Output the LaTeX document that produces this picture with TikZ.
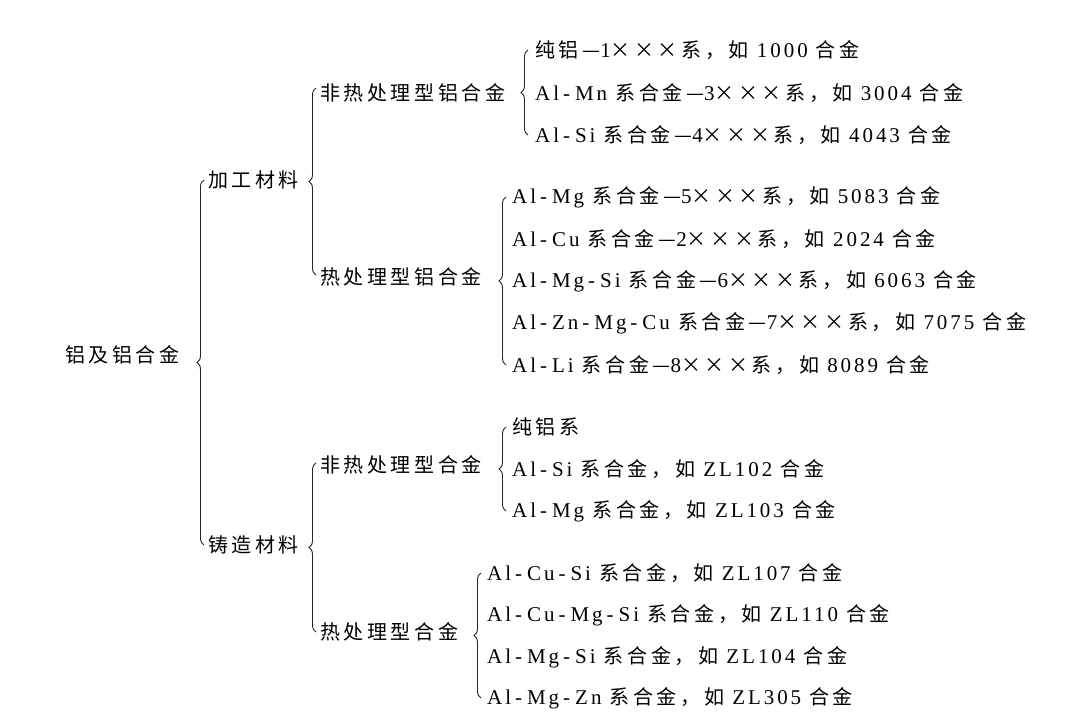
\documentclass[tikz,border=0pt]{standalone}
\usepackage{fontspec}
\setmainfont[LetterSpace=14]{Liberation Serif}
\newfontfamily\zf[LetterSpace=18]{Noto Sans CJK SC}
\newcommand{\z}[1]{{\zf\fontsize{20}{24}\selectfont #1}}
\newcommand{\xx}{\z{×××}}
\newcommand{\hy}{\hspace{4pt}-\hspace{5pt}}
\usetikzlibrary{decorations.pathreplacing}
\begin{document}
\begin{tikzpicture}[x=1pt,y=-1pt,
  t/.style={anchor=west,inner sep=0pt,font=\fontsize{21}{24}\selectfont},
  br/.style={draw=black!85,line width=0.9pt,decorate,decoration={brace,amplitude=7pt}}]
\fill[white] (0,0) rectangle (1080,728);
\node[t] (root) at (65,355) {\z{铝及铝合金}};
\node[t] (jg) at (208,180) {\z{加工材料}};
\node[t] (zz) at (208,545) {\z{铸造材料}};
\draw[br] (204,545) -- (204,180);
\node[t] (a1) at (320,93) {\z{非热处理型铝合金}};
\node[t] (a2) at (320,277) {\z{热处理型铝合金}};
\draw[br] (316,275) -- (316,88);
\node[t] (b1) at (320,465) {\z{非热处理型合金}};
\node[t] (b2) at (320,632) {\z{热处理型合金}};
\draw[br] (316,632) -- (316,463);
\draw[br] (528,135) -- (528,50);
\node[t] (a11) at (535,50) {\z{纯铝—}1\xx\z{系，如} 1000 \z{合金}};
\node[t] (a12) at (535,93) {Al\hy Mn \z{系合金—}3\xx\z{系，如} 3004 \z{合金}};
\node[t] (a13) at (535,135) {Al\hy Si \z{系合金—}4\xx\z{系，如} 4043 \z{合金}};
\draw[br] (506,365) -- (506,197);
\node[t] (a21) at (512,197) {Al\hy Mg \z{系合金—}5\xx\z{系，如} 5083 \z{合金}};
\node[t] (a22) at (512,239) {Al\hy Cu \z{系合金—}2\xx\z{系，如} 2024 \z{合金}};
\node[t] (a23) at (512,281) {Al\hy Mg\hy Si \z{系合金—}6\xx\z{系，如} 6063 \z{合金}};
\node[t] (a24) at (512,323) {Al\hy Zn\hy Mg\hy Cu \z{系合金—}7\xx\z{系，如} 7075 \z{合金}};
\node[t] (a25) at (512,365) {Al\hy Li \z{系合金—}8\xx\z{系，如} 8089 \z{合金}};
\draw[br] (506,511) -- (506,427);
\node[t] (b11) at (512,427) {\z{纯铝系}};
\node[t] (b12) at (512,469) {Al\hy Si \z{系合金，如} ZL102 \z{合金}};
\node[t] (b13) at (512,511) {Al\hy Mg \z{系合金，如} ZL103 \z{合金}};
\draw[br] (481,698) -- (481,573);
\node[t] (b21) at (487,573) {Al\hy Cu\hy Si \z{系合金，如} ZL107 \z{合金}};
\node[t] (b22) at (487,615) {Al\hy Cu\hy Mg\hy Si \z{系合金，如} ZL110 \z{合金}};
\node[t] (b23) at (487,657) {Al\hy Mg\hy Si \z{系合金，如} ZL104 \z{合金}};
\node[t] (b24) at (487,698) {Al\hy Mg\hy Zn \z{系合金，如} ZL305 \z{合金}};
\end{tikzpicture}
\end{document}
